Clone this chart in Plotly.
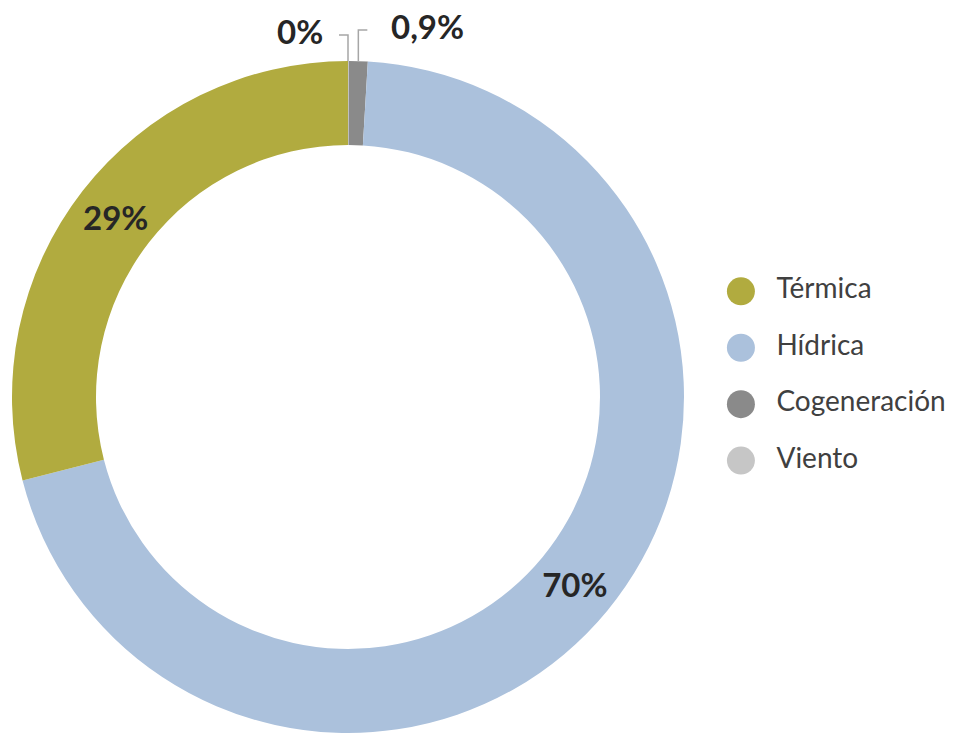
import math
import plotly.graph_objects as go

categories = ["Térmica", "Hídrica", "Cogeneración", "Viento"]
values = [29.0, 70.06, 0.9, 0.04]
shown = ["29%", "70%", "0,9%", "0%"]
colors = ["#b1ab3f", "#abc1dc", "#8a8a8a", "#c6c6c6"]

W, H = 954, 733
cx, cy, R = 340, 389, 336
hole = 0.75

dom_x = [(cx - R) / W, (cx + R) / W]
dom_y = [(H - cy - R) / H, (H - cy + R) / H]

# slices drawn clockwise from 12 o'clock in reverse legend order
p_labels = categories[::-1]
p_values = values[::-1]
p_colors = colors[::-1]
p_text = [t if v >= 5 else "" for t, v in zip(shown[::-1], p_values)]

fig = go.Figure()
fig.add_trace(go.Pie(
    labels=p_labels, values=p_values, sort=False, direction="clockwise",
    rotation=0, hole=hole, domain=dict(x=dom_x, y=dom_y),
    marker=dict(colors=p_colors, line=dict(width=0)),
    text=p_text, texttemplate="%{text}", textinfo="text",
    textposition="inside", insidetextorientation="horizontal",
    textfont=dict(family="Lato", size=33, color="#262626", weight="bold"),
    showlegend=False, hoverinfo="label+percent",
))

# leader lines + outside labels for the small slices (angles from the data)
total = sum(p_values)
cum = 0.0
mids = {}
for lab, v in zip(p_labels, p_values):
    mids[lab] = (cum + v / 2) / total
    cum += v

def to_paper(px, py):
    return px / W, 1 - py / H

for i, v in enumerate(values):
    if v >= 5:
        continue
    lab = categories[i]
    side = -1 if lab == "Viento" else 1
    ex = cx + R * math.sin(2 * math.pi * mids[lab])
    x0 = cx if side < 0 else ex
    top = 27 if side < 0 else 22
    x1 = x0 + side * 9
    pts = [to_paper(x0, cy - R), to_paper(x0, top), to_paper(x1, top)]
    path = "M {} {} L {} {} L {} {}".format(pts[0][0], pts[0][1], pts[1][0], pts[1][1], pts[2][0], pts[2][1])
    fig.add_shape(type="path", path=path, xref="paper", yref="paper",
                  line=dict(color="#a6a6a6", width=1.5))
    gap = 14 if side < 0 else 22
    dy = -4 if side < 0 else -4
    lx, ly = to_paper(x1 + side * gap, top + dy)
    fig.add_annotation(x=lx, y=ly, xref="paper", yref="paper", text=shown[i],
                       showarrow=False, xanchor="right" if side < 0 else "left",
                       yanchor="middle",
                       font=dict(family="Lato", size=33, color="#262626", weight="bold"))

# legend drawn as a scatter on a hidden axis
fig.add_trace(go.Scatter(
    x=[0.073] * len(categories), y=categories, mode="markers",
    marker=dict(size=28, color=colors, line=dict(width=0)),
    showlegend=False, hoverinfo="skip", xaxis="x", yaxis="y",
))
fig.add_trace(go.Scatter(
    x=[0.222] * len(categories), y=categories, mode="text", text=categories,
    textposition="middle right",
    textfont=dict(family="Lato", size=28, color="#404040"),
    showlegend=False, hoverinfo="skip", xaxis="x", yaxis="y",
))

fig.update_layout(
    width=W, height=H, margin=dict(l=0, r=0, t=0, b=0),
    paper_bgcolor="white", plot_bgcolor="rgba(0,0,0,0)",
    separators=", ",
    xaxis=dict(domain=[0.75, 1.0], range=[0, 1], visible=False, fixedrange=True),
    yaxis=dict(domain=[0.344, 0.652], type="category", categoryorder="array",
               categoryarray=categories, range=[3.5, -0.5], visible=False, fixedrange=True),
)

fig.write_html("out.html")
